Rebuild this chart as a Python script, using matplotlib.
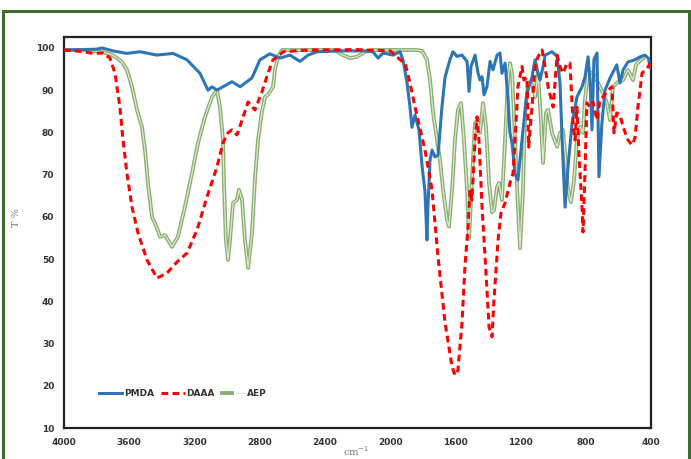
import matplotlib
matplotlib.use("Agg")
import matplotlib.pyplot as plt
from matplotlib.patches import Rectangle
from matplotlib.legend_handler import HandlerTuple

# ---- data (wavenumber cm-1, transmittance %) ----
pmda_wn = [4000, 3900, 3800, 3767, 3700, 3614, 3534, 3430, 3331, 3246, 3166, 3117, 3092, 3062, 3025,
           2970, 2920, 2847, 2798, 2737, 2675, 2614, 2553, 2503, 2449, 2300, 2150, 2105, 2074, 2043,
           1982, 1939, 1920, 1896, 1878, 1866, 1847, 1823, 1804, 1786, 1774, 1768, 1755, 1743, 1725,
           1706, 1682, 1663, 1633, 1614, 1590, 1559, 1528, 1516, 1504, 1479, 1461, 1449, 1436, 1424,
           1406, 1387, 1369, 1344, 1326, 1314, 1295, 1277, 1265, 1252, 1234, 1216, 1191, 1161, 1130,
           1111, 1090, 1081, 1065, 1049, 1007, 976, 958, 945, 927, 909, 884, 854, 823, 805,
           786, 774, 762, 750, 731, 719, 701, 682, 651, 610, 590, 571, 541, 498, 467,
           437, 415, 406, 400]
pmda_t = [99.5, 99.6, 99.7, 100, 99.3, 98.7, 99.1, 98.3, 98.7, 97.2, 94, 90, 90.8, 90, 90.8,
          92, 90.8, 92.9, 97.2, 98.6, 97.6, 98.3, 96.8, 98.3, 99.1, 99.3, 99.3, 99.1, 97.6, 98.8,
          98.3, 99.1, 97, 91.7, 86, 81.2, 84.1, 80.6, 72, 66, 54.5, 62.4, 73.5, 75.8, 74.2,
          74.6, 86, 93.1, 97.2, 99.1, 98, 98.3, 96.8, 89.7, 95.6, 98.3, 94.1, 92.4, 93.2, 88.9,
          90.8, 96.8, 94.8, 98.3, 98.8, 94, 96.4, 88.1, 79.9, 77.4, 70.3, 68.7, 78.2, 89.3, 93,
          97.2, 93.5, 92.4, 95, 98.3, 99.1, 98, 91.7, 78.2, 62.3, 71.8, 82.2, 88.4, 90.8, 93.1,
          97.9, 92.4, 80.6, 97.2, 98.8, 69.5, 82.2, 90, 92.9, 96, 91.7, 94.8, 96.7, 97.2, 97.9,
          98.3, 97.5, 95.3, 95.5]

daaa_wn = [4000, 3900, 3822, 3761, 3718, 3687, 3657, 3638, 3614, 3583, 3546, 3491, 3430, 3368, 3307,
           3246, 3184, 3123, 3062, 3025, 2994, 2970, 2939, 2908, 2871, 2829, 2786, 2749, 2718, 2688,
           2657, 2500, 2200, 2000, 1970, 1939, 1908, 1878, 1847, 1786, 1743, 1706, 1663, 1620, 1602,
           1584, 1559, 1541, 1522, 1510, 1498, 1479, 1467, 1455, 1436, 1412, 1393, 1375, 1363, 1338,
           1320, 1295, 1265, 1246, 1228, 1216, 1191, 1179, 1161, 1150, 1130, 1111, 1093, 1068, 1050,
           1031, 1000, 976, 958, 940, 915, 897, 878, 866, 854, 841, 823, 817, 805, 793,
           774, 756, 731, 713, 694, 664, 639, 627, 610, 590, 571, 541, 516, 498, 480,
           455, 424, 400]
daaa_t = [99.5, 99.2, 98.7, 98.8, 97.6, 94, 86, 78.2, 70.3, 62.4, 56.2, 49.8, 45.5, 46.7, 49.3,
          51.4, 56.9, 64.7, 71.8, 77.5, 79.9, 80.6, 79.4, 82.9, 87.2, 85.3, 89.6, 94, 97.2, 97.9,
          99.1, 99.5, 99.6, 99.3, 98.3, 97.2, 96.4, 91.7, 86, 75.8, 66.4, 50.5, 34.9, 24.5, 22.5,
          23.7, 34.9, 48.2, 57.6, 66.4, 64, 78.2, 83.7, 78.2, 62.4, 46.7, 33.9, 31.6, 40.3, 54.5,
          60.9, 63.3, 68, 70.3, 82.2, 90.8, 95.6, 92.4, 93.1, 76.5, 86, 95.6, 97.9, 99.5, 95.6,
          90.8, 86, 98.3, 95.6, 94, 96.4, 96.4, 82.2, 78.2, 86, 74.2, 62.4, 56.4, 70.3, 87,
          86, 87.2, 82.9, 87.7, 88.4, 90, 90.8, 79.9, 84.6, 84.1, 81.3, 78.2, 77, 78.7, 86,
          94, 95.3, 96.4]

aep_wn = [4000, 3850, 3761, 3700, 3645, 3614, 3583, 3552, 3522, 3503, 3485, 3460, 3430, 3411, 3381,
          3338, 3301, 3258, 3215, 3178, 3135, 3092, 3062, 3043, 3025, 3019, 3007, 2994, 2982, 2963,
          2939, 2927, 2908, 2890, 2871, 2847, 2829, 2810, 2786, 2767, 2749, 2718, 2706, 2688, 2663,
          2350, 2326, 2289, 2246, 2203, 2154, 2100, 1835, 1804, 1774, 1755, 1737, 1712, 1694, 1675,
          1651, 1639, 1620, 1602, 1584, 1565, 1547, 1528, 1516, 1504, 1491, 1479, 1461, 1449, 1430,
          1412, 1393, 1375, 1363, 1344, 1332, 1314, 1295, 1277, 1265, 1252, 1234, 1216, 1203, 1185,
          1173, 1154, 1130, 1111, 1093, 1075, 1062, 1044, 1031, 1007, 976, 958, 940, 927, 909,
          891, 872, 854, 835, 817, 805, 786, 756, 725, 694, 670, 651, 633, 602, 571,
          541, 510, 492, 461, 450]
aep_t = [99.5, 99.5, 99, 98.3, 96.7, 94.8, 90.8, 85.3, 81.3, 75.8, 68, 60, 57.4, 55.3, 55.7,
         52.9, 55.3, 62.4, 70.3, 77.5, 83.7, 88.4, 90, 86, 78.2, 68, 54.5, 49.8, 54.5, 63.3,
         64, 66.4, 64, 54.5, 47.9, 56.2, 68.7, 78.2, 85, 88.4, 88.9, 90.8, 94.8, 97.9, 99.5,
         99.5, 99.2, 98.3, 97.6, 97.9, 99.1, 99.5, 99.5, 99.3, 97.2, 92.4, 84.8, 78.2, 73.5, 66.4,
         59.3, 57.7, 66.4, 78.2, 85.3, 86.9, 78.2, 66.4, 54.8, 64, 74.2, 82.2, 82.9, 79.9, 86.9,
         81.3, 68, 61.1, 61.6, 67.1, 68, 64, 78.2, 92.4, 96.4, 94, 78.2, 62.4, 52.6, 66.4,
         84, 91.7, 91.5, 88.4, 94, 82.9, 72.8, 84.6, 85.3, 79.9, 76.6, 79.9, 80.6, 75.1, 66.4,
         63.5, 68.7, 78.2, 81.3, 79.9, 87.7, 94.3, 94, 91.7, 89.3, 86.9, 82.9, 90.8, 92, 92.4,
         94.8, 92.4, 96, 97.2, 97.5]

series_names = ["PMDA", "DAAA", "AEP"]
x_ticks = [4000, 3600, 3200, 2800, 2400, 2000, 1600, 1200, 800, 400]
y_ticks = [10, 20, 30, 40, 50, 60, 70, 80, 90, 100]

# ---- figure ----
fig = plt.figure(figsize=(6.91, 4.59), dpi=100)
fig.patches.append(Rectangle((0.004, -0.05), 0.993, 1.026, transform=fig.transFigure,
                             fill=False, edgecolor="#3d6b2f", linewidth=2.2, zorder=0))

ax = fig.add_axes([0.0926, 0.0675, 0.8495, 0.852])

blue = "#2e75b6"
red = "#ff0000"
green_dark = "#8aae72"
green_light = "#dbe9cd"

l1, = ax.plot(pmda_wn, pmda_t, color=blue, lw=2.2, solid_joinstyle="round", zorder=3)
l2, = ax.plot(daaa_wn, daaa_t, color=red, lw=2.2, ls=(0, (2.2, 1.4)), zorder=4)
g1, = ax.plot(aep_wn, aep_t, color=green_dark, lw=2.8, zorder=2)
g2, = ax.plot(aep_wn, aep_t, color=green_light, lw=0.9, zorder=2.1)

ax.set_xlim(4000, 400)
ax.set_ylim(10, 102.6)
ax.set_xticks(x_ticks)
ax.set_yticks(y_ticks)
ax.set_xticklabels([str(v) for v in x_ticks])
ax.set_yticklabels([str(v) for v in y_ticks])
ax.tick_params(axis="both", length=0, labelsize=6.5, labelcolor="#333333")
ax.tick_params(axis="y", pad=7)
ax.tick_params(axis="x", pad=7)
for lab in ax.get_xticklabels() + ax.get_yticklabels():
    lab.set_fontweight("bold")
for sp in ax.spines.values():
    sp.set_linewidth(1.6)
    sp.set_color("#222222")

leg = ax.legend([l1, l2, (g1, g2)], series_names, loc="lower left",
                bbox_to_anchor=(0.045, 0.055), ncol=3, frameon=False,
                handlelength=2.6, handletextpad=0.2, columnspacing=0.8,
                prop={"size": 6.5, "weight": "bold"},
                handler_map={tuple: HandlerTuple(ndivide=None)})
for t in leg.get_texts():
    t.set_color("#333333")

fig.text(0.024, 0.525, "T %", rotation=90, ha="center", va="center",
         family="DejaVu Serif", fontsize=7, color="#777777")
fig.text(0.515, 0.002, "cm$^{-1}$", ha="center", va="bottom",
         family="DejaVu Serif", fontsize=7, color="#777777")

fig.savefig("out.png", dpi=100)
